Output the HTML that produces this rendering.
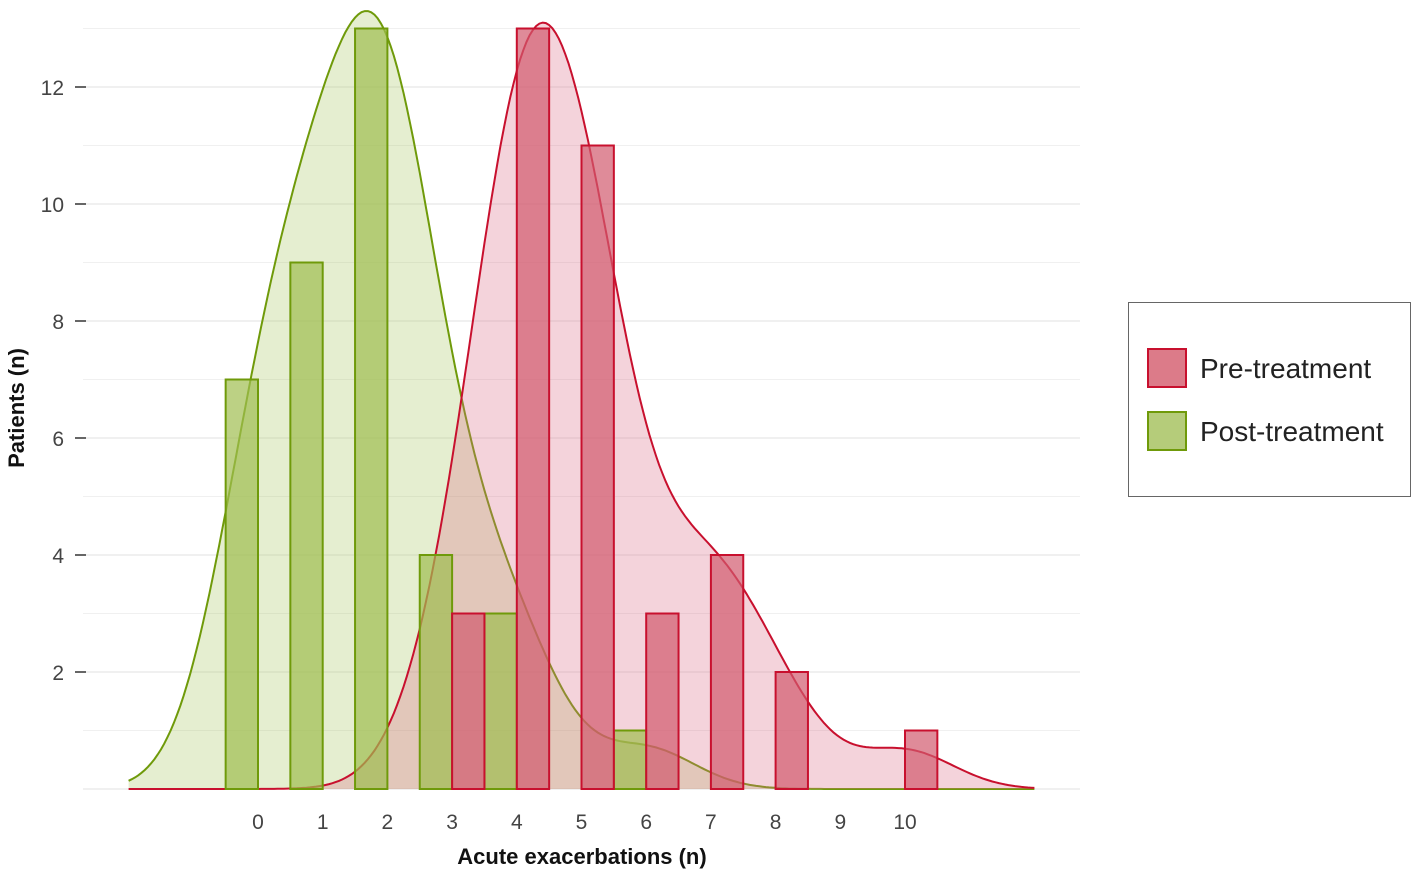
<!DOCTYPE html>
<html><head><meta charset="utf-8"><style>
body{margin:0;background:#fff;font-family:"Liberation Sans",sans-serif}
</style></head><body>
<svg id="chart" width="1418" height="878" xmlns="http://www.w3.org/2000/svg" style="font-family:'Liberation Sans',sans-serif">
<g id="grid"></g><g id="dens"></g><g id="bars"></g><g id="axes"></g>
<g>
<rect x="1128.5" y="302.5" width="282" height="194" fill="#fff" stroke="#666" stroke-width="1"/>
<rect x="1148" y="349" width="38" height="38" fill="#dc7b89" stroke="#c8102e" stroke-width="2"/>
<text x="1200" y="378" font-size="28" fill="#222">Pre-treatment</text>
<rect x="1148" y="412" width="38" height="38" fill="#b5cc7a" stroke="#6f9a0a" stroke-width="2"/>
<text x="1200" y="441" font-size="28" fill="#222">Post-treatment</text>
</g>
<text x="582" y="864" font-size="22" font-weight="bold" text-anchor="middle" fill="#111">Acute exacerbations (n)</text>
<text transform="translate(24,408) rotate(-90)" font-size="22" font-weight="bold" text-anchor="middle" fill="#111">Patients (n)</text>
</svg>
<script>
const xTicks=[0,1,2,3,4,5,6,7,8,9,10];
const yTicks=[2,4,6,8,10,12];
const postX=[0,1,2,3,4,6];
const postN=[7,9,13,4,3,1];
const preX=[3,4,5,6,7,8,10];
const preN=[3,13,11,3,4,2,1];
const NS="http://www.w3.org/2000/svg";
const X=v=>258+v*64.7, Y=v=>789-v*58.5;
function mk(t,a,p){const e=document.createElementNS(NS,t);for(const k in a)e.setAttribute(k,a[k]);document.getElementById(p).appendChild(e);return e;}
for(let i=1;i<=13;i++){const g=mk('line',{x1:83,x2:1080,y1:Y(i),y2:Y(i),stroke:i%2?'#f0f0f0':'#e2e2e2','stroke-width':1},'grid');

}
const base=mk('line',{x1:83,x2:1080,y1:Y(0),y2:Y(0),stroke:'#e2e2e2'},'grid');


yTicks.forEach(v=>{mk('line',{x1:75,x2:86,y1:Y(v),y2:Y(v),stroke:'#333','stroke-width':1.5},'axes');
const t=mk('text',{x:64,y:Y(v)+8,'font-size':21,'text-anchor':'end',fill:'#444'},'axes');t.textContent=v;

});
xTicks.forEach(v=>{const t=mk('text',{x:X(v),y:829,'font-size':21,'text-anchor':'middle',fill:'#444'},'axes');t.textContent=v;

});
function kde(xs,ns,x,h){let s=0;xs.forEach((v,i)=>{s+=ns[i]*Math.exp(-0.5*((x-v)/h)**2);});return s;}
const h=0.75;
function curve(xs,ns,peak,fill,stroke,name){let m=0;for(let x=-2;x<=12;x+=0.02)m=Math.max(m,kde(xs,ns,x,h));const sc=peak/m;
let pts=[];for(let x=-2;x<=12.001;x+=0.05)pts.push([X(x),Y(kde(xs,ns,x,h)*sc)]);
const d='M'+pts.map(p=>p[0].toFixed(1)+','+p[1].toFixed(1)).join('L');
const a=mk('path',{d:d+`L${X(12)},${Y(0)}L${X(-2)},${Y(0)}Z`,fill:fill,stroke:'none'},'dens');


const l=mk('path',{d:d,fill:'none',stroke:stroke,'stroke-width':2},'dens');

}
curve(postX,postN,13.3,'rgba(170,200,100,0.3)','#6f9a0a','post');
curve(preX,preN,13.1,'rgba(220,110,135,0.3)','#c8102e','pre');
postX.forEach((v,i)=>{const r=mk('rect',{x:X(v-0.5),y:Y(postN[i]),width:64.7/2,height:postN[i]*58.5,fill:'rgba(160,190,80,0.7)',stroke:'#6f9a0a','stroke-width':2},'bars');

});
preX.forEach((v,i)=>{const r=mk('rect',{x:X(v),y:Y(preN[i]),width:64.7/2,height:preN[i]*58.5,fill:'rgba(210,90,110,0.7)',stroke:'#c8102e','stroke-width':2},'bars');

});
</script>
</body></html>
